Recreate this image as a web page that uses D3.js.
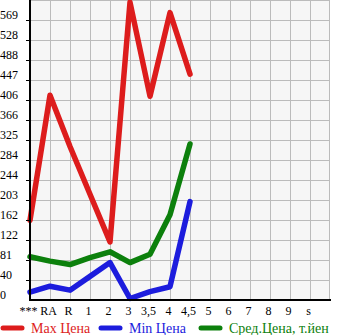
<!DOCTYPE html>
<html><head><meta charset="utf-8">
<script src="https://cdn.jsdelivr.net/npm/d3@7/dist/d3.min.js"></script>
<style>body{margin:0;background:#fff}svg{display:block}</style>
</head><body>
<svg id="c" width="345" height="335"></svg>
<script>
const categories = ["***","RA","R","1","2","3","3,5","4","4,5","5","6","7","8","9","s"];
const maxPrice = [162, 416, 312, 215, 118, 605, 414, 584, 459];
const minPrice = [16, 28, 20, 48, 76, 3, 17, 27, 200];
const avgPrice = [88, 79, 72, 86, 98, 76, 93, 173, 317];
const yTickLabels = ["0","40","81","122","162","203","244","284","325","366","406","447","488","528","569"];
const yMax = 609.6;
const seriesNames = ["Max Цена","Min Цена","Сред.Цена, т.йен"];
const colors = ["#dd1c1c","#1c1cdd","#0c800c"];

const svg = d3.select("#c");
const L = 30, R = 330, T = 0, B = 300;
const x = d3.scalePoint().domain(categories).range([L, R - 20]);
const y = d3.scaleLinear().domain([0, yMax]).range([B, T]);
const tickVals = yTickLabels.map((d, i) => i * yMax / 15);

svg.append("rect").attr("x", L).attr("y", T).attr("width", R - L).attr("height", B - T).attr("fill", "#f6f6f6");
const g = svg.append("g");
g.selectAll("line.h").data(tickVals.slice(1).concat([yMax])).enter().append("line")
  .attr("x1", L).attr("x2", R).attr("y1", d => Math.round(y(d)) + 0.5).attr("y2", d => Math.round(y(d)) + 0.5)
  .attr("stroke", "#bbbbbb").attr("stroke-width", 1);
g.selectAll("line.v").data(categories.slice(1)).enter().append("line")
  .attr("x1", d => x(d) + 0.5).attr("x2", d => x(d) + 0.5).attr("y1", T).attr("y2", B)
  .attr("stroke", "#bbbbbb").attr("stroke-width", 1);
g.append("line").attr("x1", R - 0.5).attr("x2", R - 0.5).attr("y1", T).attr("y2", B)
  .attr("stroke", "#bbbbbb").attr("stroke-width", 1);

const line = d3.line().x((d, i) => x(categories[i])).y(d => y(d));
[maxPrice, minPrice, avgPrice].forEach((s, k) => {
  svg.append("path").datum(s).attr("d", line).attr("fill", "none")
    .attr("stroke", colors[k]).attr("stroke-width", 5.5)
    .attr("stroke-linejoin", "round").attr("stroke-linecap", "round");
});

svg.append("line").attr("x1", L).attr("x2", L).attr("y1", T).attr("y2", B + 1).attr("stroke", "#000").attr("stroke-width", 2);
svg.append("line").attr("x1", L - 1).attr("x2", R + 1).attr("y1", B).attr("y2", B).attr("stroke", "#000").attr("stroke-width", 2);

const yt = svg.append("g").attr("font-family", "Liberation Serif, serif").attr("font-size", 12).attr("fill", "#000");
tickVals.forEach((v, i) => {
  const yy = Math.round(y(v));
  if (i > 0) svg.append("line").attr("x1", 26).attr("x2", 30).attr("y1", yy + 0.5).attr("y2", yy + 0.5).attr("stroke", "#000");
  yt.append("text").attr("x", 0).attr("y", yy - 1).text(yTickLabels[i]);
});

const xt = svg.append("g").attr("font-family", "Liberation Serif, serif").attr("font-size", 12).attr("fill", "#000").attr("text-anchor", "middle");
categories.forEach(c => {
  xt.append("text").attr("x", x(c) - 1.5).attr("y", 315).text(c);
});

const lx = [0, 98, 198];
seriesNames.forEach((n, k) => {
  svg.append("line").attr("x1", lx[k] + 3).attr("x2", lx[k] + 22).attr("y1", 328).attr("y2", 328)
    .attr("stroke", colors[k]).attr("stroke-width", 5).attr("stroke-linecap", "round");
  svg.append("text").attr("x", lx[k] + 31).attr("y", 333).attr("font-family", "Liberation Serif, serif")
    .attr("font-size", 14).attr("fill", colors[k]).text(n);
});
</script>
</body></html>
